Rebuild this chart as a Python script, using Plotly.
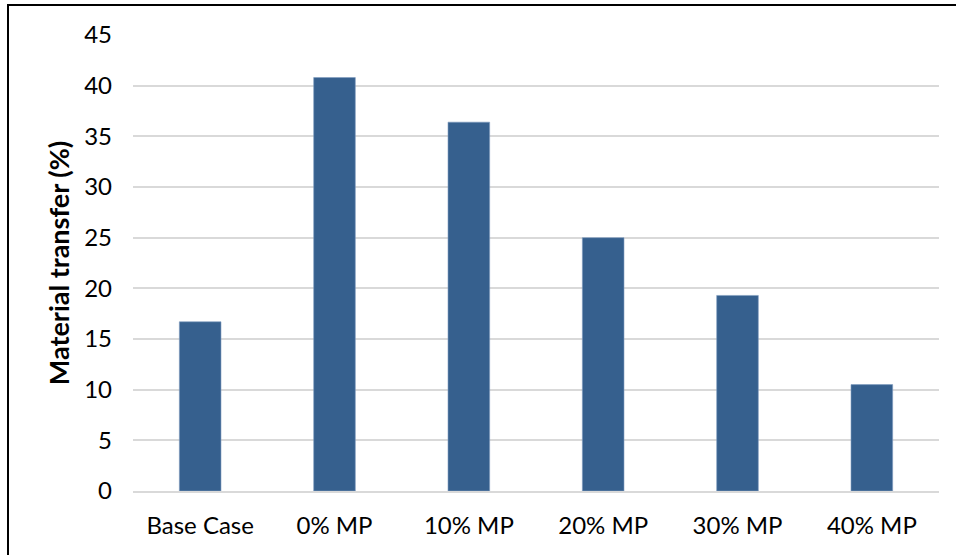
import plotly.graph_objects as go

categories = ["Base Case", "0% MP", "10% MP", "20% MP", "30% MP", "40% MP"]
values = [16.7, 40.8, 36.4, 25.0, 19.3, 10.5]
y_ticks = [0, 5, 10, 15, 20, 25, 30, 35, 40, 45]

W, H = 956, 555
L, R, T, B = 133, 17, 35, 64
pw, ph = W - L - R, H - T - B

fig = go.Figure(go.Bar(
    x=categories, y=values,
    marker=dict(color="#36608E", line=dict(color="#7f9cc0", width=0.6)),
    width=0.31,
))

fig.update_layout(
    width=W, height=H,
    margin=dict(l=L, r=R, t=T, b=B),
    paper_bgcolor="white", plot_bgcolor="white",
    font=dict(family="Lato, sans-serif", size=24, color="#000000"),
    showlegend=False,
    xaxis=dict(showgrid=False, showline=True, linecolor="#d9d9d9", linewidth=2,
               ticks="", ticklabelstandoff=12, tickfont=dict(size=24)),
    yaxis=dict(range=[0, 45], tickvals=y_ticks, showgrid=True, gridcolor="#d9d9d9",
               gridwidth=2, zeroline=False, showline=False, ticks="",
               ticklabelstandoff=20, tickfont=dict(size=24),
               title=dict(text="Material transfer (%)",
                          font=dict(size=27, family="Lato, sans-serif", weight="bold"),
                          standoff=6)),
    shapes=[dict(type="rect", xref="paper", yref="paper",
                 x0=(8 - L) / pw, x1=(W + 20 - L) / pw,
                 y0=(H - B - (H + 20)) / ph, y1=(H - B - 5) / ph,
                 line=dict(color="black", width=2), fillcolor="rgba(0,0,0,0)", layer="above")],
)

fig.write_html("out.html")
